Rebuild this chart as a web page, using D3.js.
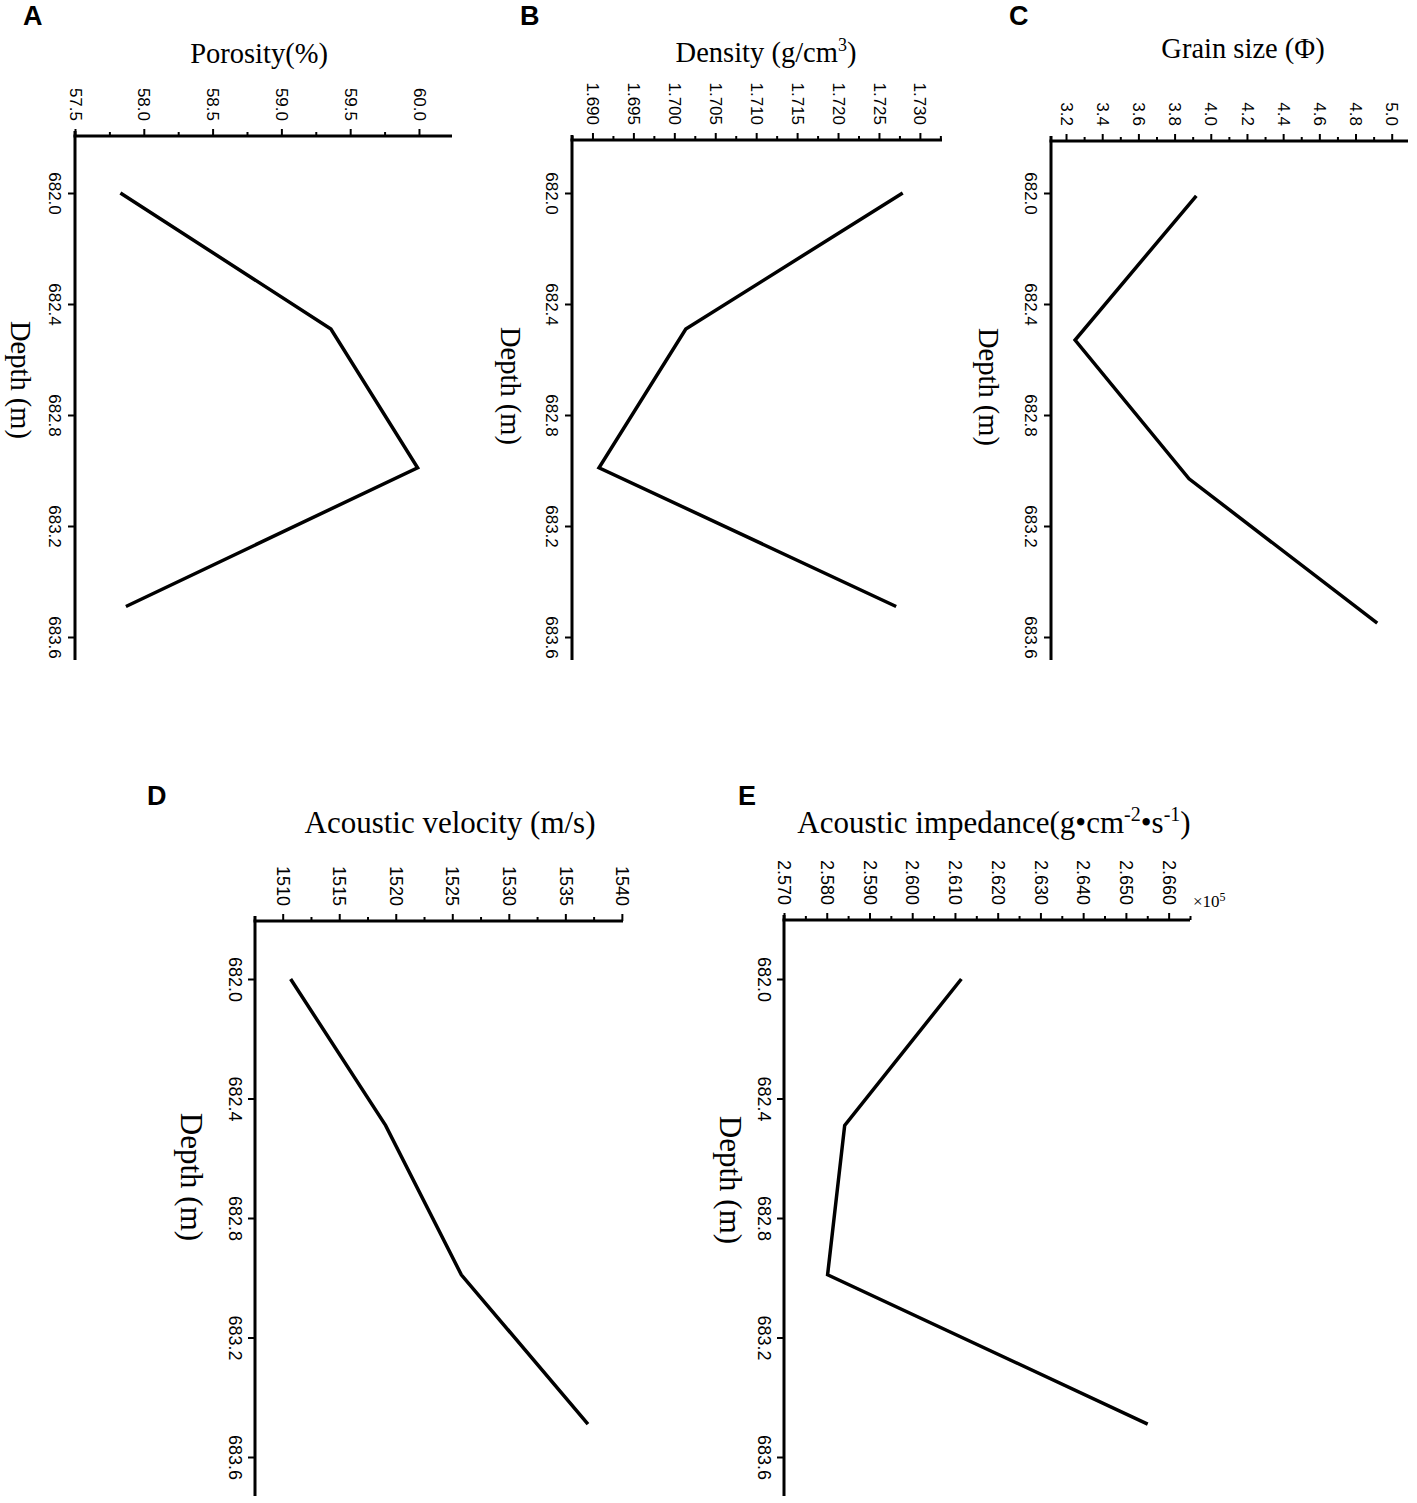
<!DOCTYPE html>
<html>
<head>
<meta charset="utf-8">
<script src="https://cdn.jsdelivr.net/npm/d3@7"></script>
<style>
    body { margin: 0; background: #fff; }
    .tick text { font-family: "Liberation Sans", Arial, sans-serif; fill: #000; }
    .tick line { stroke: #000; stroke-width: 2; }
    .title { font-family: "Liberation Serif", "Times New Roman", serif; fill: #000; }
    .letter { font-family: "Liberation Sans", Arial, sans-serif; font-weight: bold; font-size: 27px; fill: #000; }
</style>
</head>
<body>
<div id="chart"></div>
<script>
// depth readings (m)
const depthTicks = [682.0, 682.4, 682.8, 683.2, 683.6];
const depth = [682.0, 682.49, 682.99, 683.49];
const grainDepth = [682.01, 682.53, 683.03, 683.55];

// series values
const porosity = [57.83, 59.36, 59.99, 57.87];
const density = [1.7279, 1.7014, 1.6908, 1.7271];
const grainSize = [3.92, 3.25, 3.88, 4.92];
const velocity = [1510.7, 1519.1, 1525.8, 1537.0];
const impedance = [2.6115, 2.5842, 2.5802, 2.6551];

// tick labels
const porosityTicks = [57.5, 58.0, 58.5, 59.0, 59.5, 60.0];
const densityTicks = [1.690, 1.695, 1.700, 1.705, 1.710, 1.715, 1.720, 1.725, 1.730];
const grainTicks = [3.2, 3.4, 3.6, 3.8, 4.0, 4.2, 4.4, 4.6, 4.8, 5.0];
const velocityTicks = [1510, 1515, 1520, 1525, 1530, 1535, 1540];
const impedanceTicks = [2.570, 2.580, 2.590, 2.600, 2.610, 2.620, 2.630, 2.640, 2.650, 2.660];

const WIDTH = 1417, HEIGHT = 1503;

// each row shares a depth scale and font sizes
const rows = [
    { range: [193, 637], bottom: 660, tickFont: 17, titleFont: 28.5 },
    { range: [979, 1457], bottom: 1496, tickFont: 18, titleFont: 31 }
];

const panels = [
    { letter: "A", letterPos: [23, 25], title: [["Porosity(%)"]], titlePos: [259, 63],
      values: porosity, depths: depth, ticks: porosityTicks, fmt: ".1f",
      domain: [57.5, 60.24], x0: 75, x1: 452, y0: 136, row: 0, depthPos: [20, 380] },
    { letter: "B", letterPos: [520, 25], title: [["Density (g/cm"], ["3", true], [")"]], titlePos: [766, 62],
      values: density, depths: depth, ticks: densityTicks, fmt: ".3f",
      domain: [1.6875, 1.7327], x0: 572, x1: 942, y0: 140, row: 0, depthPos: [510, 386] },
    { letter: "C", letterPos: [1009, 25], title: [["Grain size (Φ)"]], titlePos: [1243, 58],
      values: grainSize, depths: grainDepth, ticks: grainTicks, fmt: ".1f",
      domain: [3.117, 5.09], x0: 1051, x1: 1408, y0: 141, row: 0, depthPos: [988, 387] },
    { letter: "D", letterPos: [147, 805], title: [["Acoustic velocity (m/s)"]], titlePos: [450, 833],
      values: velocity, depths: depth, ticks: velocityTicks, fmt: "d",
      domain: [1507.55, 1540.1], x0: 255, x1: 623, y0: 921, row: 1, depthPos: [190, 1177] },
    { letter: "E", letterPos: [738, 805],
      title: [["Acoustic impedance(g•cm"], ["-2", true], ["•s"], ["-1", true], [")"]], titlePos: [994, 833],
      values: impedance, depths: depth, ticks: impedanceTicks, fmt: ".3f",
      domain: [2.570, 2.665], x0: 784, x1: 1190, y0: 920, row: 1, depthPos: [729, 1180],
      multiplier: true }
];

const svg = d3.select("#chart")
    .append("svg")
        .attr("width", WIDTH)
        .attr("height", HEIGHT);

panels.forEach(p => {
    const row = rows[p.row];
    const g = svg.append("g");

    const x = d3.scaleLinear().domain(p.domain).range([p.x0, p.x1]);
    const y = d3.scaleLinear().domain([682.0, 683.6]).range(row.range);

    // minor ticks halfway between the labelled ones
    const step = p.ticks[1] - p.ticks[0];
    const minor = d3.range(p.ticks[0] - step / 2, p.domain[1] + step * 0.01, step)
        .filter(v => v >= p.domain[0] - step * 0.01);

    g.append("g")
        .attr("transform", `translate(0, ${p.y0})`)
        .call(d3.axisTop(x).tickValues(minor).tickSize(4).tickFormat(""))
        .call(a => a.select(".domain").remove());

    const xAxis = g.append("g")
        .attr("transform", `translate(0, ${p.y0})`)
        .call(d3.axisTop(x).tickValues(p.ticks).tickSize(7).tickSizeOuter(0)
            .tickFormat(d3.format(p.fmt)));
    xAxis.select(".domain").remove();
    xAxis.selectAll(".tick text")
        .style("font-size", row.tickFont + "px")
        .attr("x", 0).attr("y", 0).attr("dy", "0.35em")
        .attr("text-anchor", "end")
        .attr("transform", "translate(0, -15) rotate(90)");

    g.append("line")
        .attr("x1", p.x0 - 1.5).attr("x2", p.x1)
        .attr("y1", p.y0).attr("y2", p.y0)
        .attr("stroke", "#000").attr("stroke-width", 3);

    // depth axis
    const yAxis = g.append("g")
        .attr("transform", `translate(${p.x0}, 0)`)
        .call(d3.axisLeft(y).tickValues(depthTicks).tickSize(7).tickFormat(d3.format(".1f")));
    yAxis.select(".domain").remove();
    yAxis.selectAll(".tick text")
        .style("font-size", row.tickFont + "px")
        .attr("x", 0).attr("y", 0).attr("dy", "0.35em")
        .attr("text-anchor", "middle")
        .attr("transform", "translate(-20, 0) rotate(90)");

    g.append("line")
        .attr("x1", p.x0).attr("x2", p.x0)
        .attr("y1", p.y0 - 5).attr("y2", row.bottom)
        .attr("stroke", "#000").attr("stroke-width", 3);

    // profile line
    const line = d3.line()
        .x(d => x(d[0]))
        .y(d => y(d[1]));
    g.append("path")
        .datum(p.values.map((v, i) => [v, p.depths[i]]))
        .attr("d", line)
        .attr("fill", "none")
        .attr("stroke", "#000")
        .attr("stroke-width", 3.5)
        .attr("stroke-linejoin", "miter");

    // labels
    g.append("text")
        .attr("class", "letter")
        .attr("x", p.letterPos[0]).attr("y", p.letterPos[1])
        .text(p.letter);

    const title = g.append("text")
        .attr("class", "title")
        .style("font-size", row.titleFont + "px")
        .attr("x", p.titlePos[0]).attr("y", p.titlePos[1])
        .attr("text-anchor", "middle");
    const lift = Math.round(row.titleFont * 0.38);
    let raised = false;
    p.title.forEach(([t, sup]) => {
        const span = title.append("tspan").text(t);
        if (sup) {
            span.attr("font-size", Math.round(row.titleFont * 0.64)).attr("dy", raised ? 0 : -lift);
            raised = true;
        } else if (raised) {
            span.attr("dy", lift);
            raised = false;
        }
    });

    g.append("text")
        .attr("class", "title")
        .style("font-size", row.titleFont + "px")
        .attr("text-anchor", "middle")
        .attr("dy", "0.3em")
        .attr("transform", `translate(${p.depthPos[0]}, ${p.depthPos[1]}) rotate(90)`)
        .text("Depth (m)");

    if (p.multiplier) {
        const m = g.append("text")
            .attr("class", "title")
            .style("font-size", "17px")
            .attr("x", p.x1 + 3).attr("y", p.y0 - 13);
        m.append("tspan").text("×10");
        m.append("tspan").attr("font-size", 12).attr("dy", -6).text("5");
    }
});
</script>
</body>
</html>
